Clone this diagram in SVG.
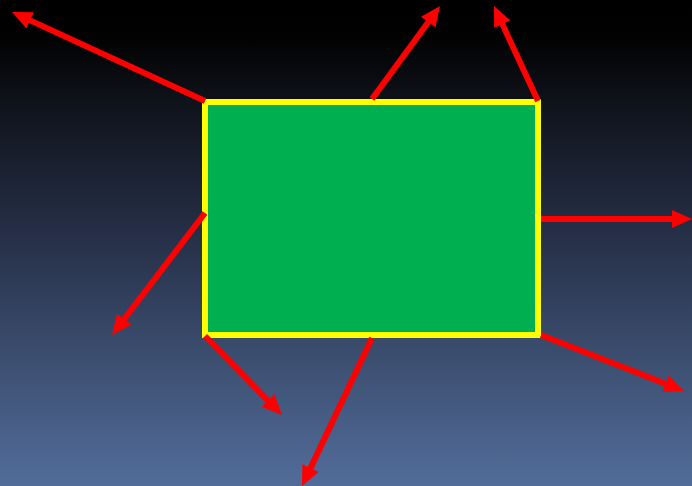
<svg xmlns="http://www.w3.org/2000/svg" width="692" height="486" viewBox="0 0 692 486">
  <defs>
    <linearGradient id="bg" x1="0" y1="0" x2="0" y2="1">
      <stop offset="0" stop-color="#000000"/>
      <stop offset="0.08" stop-color="#020203"/>
      <stop offset="0.2" stop-color="#0e1118"/>
      <stop offset="0.5" stop-color="#27314a"/>
      <stop offset="0.75" stop-color="#3d5072"/>
      <stop offset="1" stop-color="#526c9a"/>
    </linearGradient>
    <marker id="ah" viewBox="0 0 20 18" refX="9" refY="9" markerWidth="20" markerHeight="18" markerUnits="userSpaceOnUse" orient="auto">
      <path d="M0,0 L20,9 L0,18 z" fill="#ff0000"/>
    </marker>
    <style>
      .box { fill: #00b050; stroke: #ffff00; stroke-width: 6; }
      .arr { stroke: #ff0000; stroke-width: 6; fill: none; marker-end: url(#ah); }
    </style>
  </defs>
  <rect x="0" y="0" width="692" height="486" fill="url(#bg)"/>
  <g id="node-box">
    <rect class="box" x="205" y="102" width="333" height="233"/>
  </g>
  <g id="connectors">
    <line class="arr" x1="205" y1="101" x2="22" y2="16.6"/>
    <line class="arr" x1="372" y1="99" x2="433.5" y2="14.9"/>
    <line class="arr" x1="538" y1="101" x2="498.6" y2="16"/>
    <line class="arr" x1="541" y1="219" x2="681" y2="219"/>
    <line class="arr" x1="205" y1="213" x2="118.7" y2="326.3"/>
    <line class="arr" x1="205" y1="336" x2="274.3" y2="407.1"/>
    <line class="arr" x1="372" y1="338" x2="306.7" y2="476.1"/>
    <line class="arr" x1="541" y1="335" x2="673.8" y2="387"/>
  </g>
</svg>
